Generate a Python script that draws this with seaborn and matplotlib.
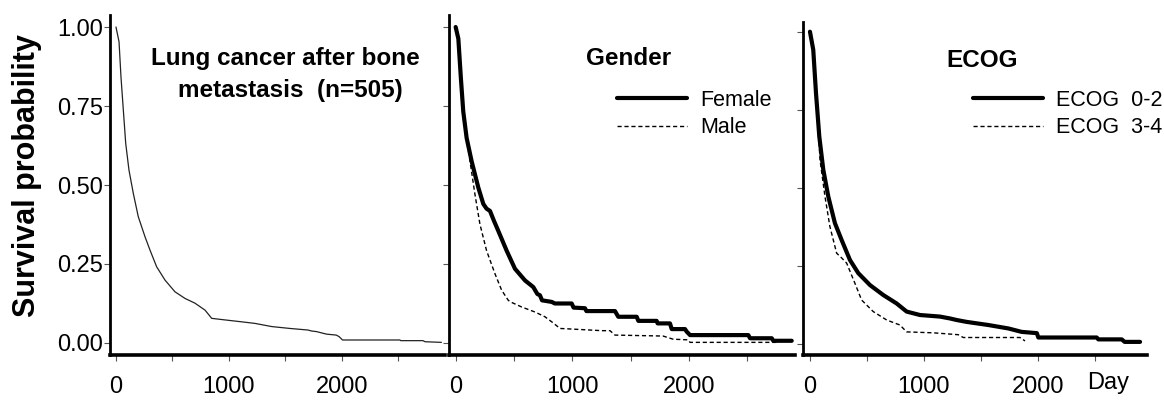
import matplotlib
matplotlib.use("Agg")
import matplotlib.pyplot as plt
import seaborn as sns

# overall curve (n=505)
all_day = [0, 27, 44, 65, 86, 115, 153, 197, 257, 301, 360, 434, 522, 611, 699, 788, 820, 847,
           965, 1112, 1230, 1378, 1540, 1700, 1730, 1776, 1830, 1864, 1950, 1975, 2005, 2513,
           2520, 2717, 2735, 2880]
all_surv = [1.0, 0.953, 0.843, 0.737, 0.632, 0.547, 0.474, 0.40, 0.336, 0.294, 0.241, 0.199,
            0.162, 0.141, 0.126, 0.104, 0.090, 0.078, 0.073, 0.067, 0.062, 0.052, 0.046, 0.041,
            0.038, 0.036, 0.031, 0.028, 0.025, 0.020, 0.0095, 0.0095, 0.0074, 0.0074, 0.004, 0.002]

# gender
female_day = [0, 23, 45, 65, 94, 137, 194, 237, 265, 294, 330, 365, 437, 508, 594, 665, 700,
              722, 740, 823, 850, 994, 1010, 1108, 1120, 1237, 1365, 1393, 1551, 1565, 1722,
              1730, 1836, 1851, 1965, 1979, 2008, 2507, 2522, 2708, 2721, 2879]
female_surv = [1.0, 0.963, 0.837, 0.733, 0.649, 0.575, 0.492, 0.44, 0.425, 0.418, 0.385, 0.355,
               0.292, 0.235, 0.198, 0.177, 0.155, 0.151, 0.135, 0.130, 0.125, 0.125, 0.112,
               0.110, 0.101, 0.101, 0.101, 0.083, 0.083, 0.070, 0.070, 0.062, 0.062, 0.044,
               0.044, 0.036, 0.025, 0.025, 0.015, 0.015, 0.007, 0.007]
male_day = [0, 23, 45, 65, 80, 123, 165, 208, 265, 337, 394, 451, 470, 565, 680, 765, 830, 894,
            1051, 1251, 1322, 1365, 1777, 1863, 1990, 2008, 2760]
male_surv = [1.0, 0.963, 0.837, 0.733, 0.68, 0.575, 0.471, 0.376, 0.292, 0.219, 0.167, 0.135,
             0.130, 0.114, 0.098, 0.083, 0.065, 0.046, 0.043, 0.039, 0.039, 0.025, 0.022,
             0.012, 0.010, 0.002, 0.002]

# ECOG
ecog02_day = [0, 29, 53, 82, 117, 161, 219, 278, 351, 424, 526, 643, 760, 848, 965, 1140,
              1228, 1287, 1374, 1564, 1740, 1857, 1990, 2003, 2515, 2529, 2734, 2760, 2895]
ecog02_surv = [1.0, 0.942, 0.803, 0.664, 0.558, 0.472, 0.387, 0.333, 0.269, 0.227, 0.189,
               0.157, 0.130, 0.104, 0.093, 0.088, 0.082, 0.077, 0.071, 0.061, 0.050, 0.039,
               0.035, 0.021, 0.021, 0.015, 0.015, 0.007, 0.007]
ecog34_day = [0, 29, 53, 75, 88, 132, 175, 234, 280, 322, 395, 453, 555, 673, 789, 848, 1082,
              1228, 1300, 1345, 1842, 1886]
ecog34_surv = [1.0, 0.942, 0.803, 0.68, 0.59, 0.472, 0.376, 0.291, 0.275, 0.259, 0.194, 0.141,
               0.104, 0.077, 0.061, 0.039, 0.036, 0.032, 0.030, 0.021, 0.021, 0.010]

x_ticks = [0, 500, 1000, 1500, 2000, 2500]
x_labels = ["0", "", "1000", "", "2000", ""]
y_ticks = [0, 0.25, 0.5, 0.75, 1.0]
y_labels = ["0.00", "0.25", "0.50", "0.75", "1.00"]

sns.set_style("white")
plt.rcParams["font.family"] = ["Liberation Sans", "DejaVu Sans"]
plt.rcParams["text.color"] = "black"
plt.rcParams["xtick.color"] = "black"
plt.rcParams["ytick.color"] = "black"

fig = plt.figure(figsize=(11.64, 4.01), dpi=100)
W, H = 1164, 401


def px_axes(left, right, top, bottom):
    return fig.add_axes([left / W, 1 - bottom / H, (right - left) / W, (bottom - top) / H])


ax1 = px_axes(110, 445, 15, 355)
ax2 = px_axes(449, 795, 15, 355)
ax3 = px_axes(803, 1147, 21.7, 355)

solid = dict(color="black", lw=3.0, estimator=None, sort=False)
dashed = dict(color="black", lw=1.0, linestyle=(0, (3, 2)), estimator=None, sort=False)

sns.lineplot(x=all_day, y=all_surv, ax=ax1, color="#222222", lw=0.9, estimator=None, sort=False)
sns.lineplot(x=female_day, y=female_surv, ax=ax2, label="Female", **solid)
sns.lineplot(x=male_day, y=male_surv, ax=ax2, label="Male", **dashed)
sns.lineplot(x=ecog02_day, y=ecog02_surv, ax=ax3, label="ECOG  0-2", **solid)
sns.lineplot(x=ecog34_day, y=ecog34_surv, ax=ax3, label="ECOG  3-4", **dashed)

xlims = [(-53, 2912), (-57, 2907), (-61, 2956)]
ylims = [(-0.038, 1.038), (-0.038, 1.038), (-0.035, 1.032)]
for ax, xl, yl in zip([ax1, ax2, ax3], xlims, ylims):
    ax.set_xlim(*xl)
    ax.set_ylim(*yl)
    ax.set_xticks(x_ticks)
    ax.set_xticklabels(x_labels)
    ax.set_yticks(y_ticks)
    ax.set_yticklabels(y_labels if ax is ax1 else [""] * len(y_ticks))
    ax.set_xlabel("")
    ax.set_ylabel("")
    for side in ["top", "right"]:
        ax.spines[side].set_visible(False)
    ax.spines["left"].set_linewidth(2.0)
    ax.spines["bottom"].set_linewidth(2.6)
    ax.spines["left"].set_color("black")
    ax.spines["bottom"].set_color("black")
    ax.tick_params(axis="both", which="major", direction="out", length=4, width=0.8,
                   color="#555555", labelsize=17, labelcolor="black")
    ax.tick_params(axis="y", pad=1, left=True)
    ax.tick_params(axis="x", pad=11, bottom=True)
    ax.patch.set_visible(False)

leg_kw = dict(loc="upper left", bbox_transform=fig.transFigure, frameon=False, fontsize=15.5,
              handlelength=3.25, handletextpad=0.6, labelspacing=0.3, borderpad=0,
              borderaxespad=0, labelcolor="black")
ax2.legend(bbox_to_anchor=(617 / W, 1 - 90 / H), **leg_kw)
ax3.legend(bbox_to_anchor=(973 / W, 1 - 90 / H), **leg_kw)

title_kw = dict(fontsize=17.5, fontweight="bold", ha="center", va="baseline", color="black")
fig.text(285 / W, 1 - 65 / H, "Lung cancer after bone", **title_kw)
fig.text(290 / W, 1 - 96.7 / H, "metastasis  (n=505)", **title_kw)
fig.text(629 / W, 1 - 65 / H, "Gender", **title_kw)
fig.text(982 / W, 1 - 66.7 / H, "ECOG", **title_kw)

fig.text(27 / W, 1 - 176 / H, "Survival probability", fontsize=22, fontweight="bold",
         rotation=90, ha="center", va="center", color="black")
fig.text(1108 / W, 1 - 383 / H, "Day", fontsize=17, ha="center", va="center", color="black")

fig.savefig("out.png", dpi=100)
